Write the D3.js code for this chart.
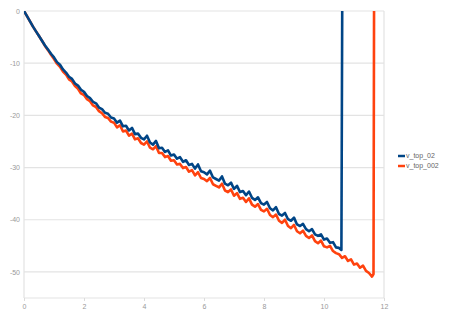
<!DOCTYPE html>
<html>
<head>
<meta charset="utf-8">
<script src="https://cdn.jsdelivr.net/npm/d3@7"></script>
<style>
  body { margin: 0; background: #fff; }
  svg { display: block; font-family: "Liberation Sans", Arial, sans-serif; }
</style>
</head>
<body>
<svg id="chart" width="450" height="328"></svg>
<script>
// series: [x, value]
var vTop02 = [
  [0.0, 0], [0.1, -1.0], [0.2, -2.0], [0.3, -3.0], [0.4, -3.9], [0.5, -4.8],
  [0.6, -5.7], [0.7, -6.6], [0.8, -7.4], [0.9, -8.2], [1.0, -8.9], [1.1, -9.8],
  [1.2, -10.3], [1.3, -11.2], [1.4, -11.8], [1.5, -12.6], [1.6, -13.0], [1.7, -13.9],
  [1.8, -14.3], [1.9, -15.1], [2.0, -15.5], [2.1, -16.3], [2.2, -16.7], [2.3, -17.4],
  [2.4, -17.7], [2.5, -18.5], [2.6, -18.8], [2.7, -19.5], [2.8, -19.7], [2.9, -20.4],
  [3.0, -20.6], [3.1, -21.4], [3.2, -21.0], [3.3, -22.1], [3.4, -22.0], [3.5, -22.9],
  [3.6, -22.4], [3.7, -23.6], [3.8, -23.5], [3.9, -24.3], [4.0, -24.6], [4.1, -23.9],
  [4.2, -25.2], [4.3, -25.6], [4.4, -24.9], [4.5, -26.3], [4.6, -26.2], [4.7, -27.0],
  [4.8, -26.7], [4.9, -27.7], [5.0, -27.5], [5.1, -28.3], [5.2, -28.0], [5.3, -28.9],
  [5.4, -28.6], [5.5, -29.5], [5.6, -29.3], [5.7, -30.2], [5.8, -29.4], [5.9, -30.7],
  [6.0, -30.9], [6.1, -31.3], [6.2, -30.6], [6.3, -31.9], [6.4, -32.2], [6.5, -32.5],
  [6.6, -31.7], [6.7, -33.1], [6.8, -33.4], [6.9, -32.9], [7.0, -34.1], [7.1, -33.5],
  [7.2, -34.7], [7.3, -34.5], [7.4, -35.3], [7.5, -34.6], [7.6, -35.8], [7.7, -36.2],
  [7.8, -35.7], [7.9, -36.8], [8.0, -37.1], [8.1, -36.6], [8.2, -37.8], [8.3, -38.2],
  [8.4, -37.6], [8.5, -38.9], [8.6, -39.2], [8.7, -38.7], [8.8, -39.9], [8.9, -40.2],
  [9.0, -39.6], [9.1, -40.9], [9.2, -41.2], [9.3, -40.8], [9.4, -41.8], [9.5, -42.2],
  [9.6, -41.8], [9.7, -42.8], [9.8, -43.1], [9.9, -42.8], [10.0, -43.8], [10.1, -43.6],
  [10.2, -44.4], [10.3, -44.3], [10.4, -45.3], [10.5, -45.4], [10.58, -45.8], [10.61, 5]
];

var vTop002 = [
  [0.0, 0], [0.1, -1.0], [0.2, -2.0], [0.3, -3.0], [0.4, -3.9], [0.5, -4.8],
  [0.6, -5.7], [0.7, -6.7], [0.8, -7.5], [0.9, -8.4], [1.0, -9.2], [1.1, -10.1],
  [1.2, -10.7], [1.3, -11.6], [1.4, -12.2], [1.5, -13.1], [1.6, -13.5], [1.7, -14.4],
  [1.8, -14.9], [1.9, -15.8], [2.0, -16.1], [2.1, -16.9], [2.2, -17.3], [2.3, -18.1],
  [2.4, -18.4], [2.5, -19.2], [2.6, -19.6], [2.7, -20.3], [2.8, -20.5], [2.9, -21.2],
  [3.0, -21.4], [3.1, -22.3], [3.2, -21.9], [3.3, -23.1], [3.4, -22.9], [3.5, -23.9],
  [3.6, -23.5], [3.7, -24.6], [3.8, -24.4], [3.9, -25.3], [4.0, -25.6], [4.1, -25.0],
  [4.2, -26.2], [4.3, -26.5], [4.4, -25.9], [4.5, -27.2], [4.6, -27.2], [4.7, -28.0],
  [4.8, -27.8], [4.9, -28.7], [5.0, -28.6], [5.1, -29.4], [5.2, -29.3], [5.3, -30.1],
  [5.4, -29.9], [5.5, -30.8], [5.6, -30.5], [5.7, -31.5], [5.8, -30.9], [5.9, -32.0],
  [6.0, -32.2], [6.1, -32.6], [6.2, -32.0], [6.3, -33.2], [6.4, -33.5], [6.5, -33.8],
  [6.6, -33.1], [6.7, -34.4], [6.8, -34.7], [6.9, -34.2], [7.0, -35.4], [7.1, -34.9],
  [7.2, -36.0], [7.3, -35.8], [7.4, -36.6], [7.5, -35.9], [7.6, -37.1], [7.7, -37.5],
  [7.8, -37.0], [7.9, -38.1], [8.0, -38.4], [8.1, -37.9], [8.2, -39.1], [8.3, -39.5],
  [8.4, -39.0], [8.5, -40.2], [8.6, -40.6], [8.7, -40.0], [8.8, -41.2], [8.9, -41.6],
  [9.0, -41.0], [9.1, -42.2], [9.2, -42.6], [9.3, -42.1], [9.4, -43.1], [9.5, -43.5],
  [9.6, -43.0], [9.7, -44.1], [9.8, -44.5], [9.9, -44.0], [10.0, -45.1], [10.1, -45.3],
  [10.2, -45.0], [10.3, -46.0], [10.4, -46.4], [10.5, -46.6], [10.6, -47.3], [10.7, -47.0],
  [10.8, -47.9], [10.9, -47.6], [11.0, -48.6], [11.1, -48.4], [11.2, -49.2], [11.3, -48.8],
  [11.4, -49.8], [11.5, -50.2], [11.6, -50.9], [11.65, -50.4], [11.67, 5]
];

var seriesNames = ['v_top_02', 'v_top_002'];
var seriesColors = ['#004586', '#ff420e'];
var xTicks = [0, 2, 4, 6, 8, 10, 12];
var yTicks = [0, -10, -20, -30, -40, -50];

(function() {
    var svg = d3.select('#chart');

    var plotLeft = 24, plotRight = 384, plotTop = 11, plotBottom = 298;

    var x = d3.scaleLinear().domain([0, 12]).range([plotLeft, plotRight]);
    var y = d3.scaleLinear().domain([-55, 0]).range([plotBottom, plotTop]);

    // gridlines
    svg.append('g')
        .selectAll('line')
        .data(yTicks.concat([-55]))
        .enter().append('line')
        .attr('x1', plotLeft)
        .attr('x2', plotRight)
        .attr('y1', function(d) { return y(d); })
        .attr('y2', function(d) { return y(d); })
        .attr('stroke', '#e3e3e3')
        .attr('stroke-width', 1.2);

    // left and right frame
    svg.append('line')
        .attr('x1', plotLeft).attr('x2', plotLeft)
        .attr('y1', plotTop).attr('y2', plotBottom)
        .attr('stroke', '#e3e3e3').attr('stroke-width', 1.2);
    svg.append('line')
        .attr('x1', plotRight).attr('x2', plotRight)
        .attr('y1', plotTop).attr('y2', plotBottom)
        .attr('stroke', '#e3e3e3').attr('stroke-width', 1.2);

    // x axis
    var xAxis = d3.axisBottom(x)
        .tickValues(xTicks)
        .tickSize(3)
        .tickSizeOuter(0)
        .tickPadding(3);

    var gx = svg.append('g')
        .attr('transform', 'translate(0,' + plotBottom + ')')
        .call(xAxis);
    gx.select('.domain').remove();
    gx.selectAll('line').attr('stroke', '#dcdcdc');
    gx.selectAll('text')
        .attr('fill', '#999')
        .style('font-size', '7px')
        .style('font-family', '"Liberation Sans", Arial, sans-serif');

    // y axis
    var yAxis = d3.axisLeft(y)
        .tickValues(yTicks)
        .tickSize(0)
        .tickPadding(4)
        .tickFormat(function(d) { return d === 0 ? '0' : '-' + Math.abs(d); });

    var gy = svg.append('g')
        .attr('transform', 'translate(' + plotLeft + ',0)')
        .call(yAxis);
    gy.select('.domain').remove();
    gy.selectAll('text')
        .attr('fill', '#999')
        .style('font-size', '7px')
        .style('font-family', '"Liberation Sans", Arial, sans-serif');

    // clip to plot area
    svg.append('clipPath')
        .attr('id', 'plot-clip')
        .append('rect')
        .attr('x', plotLeft)
        .attr('y', plotTop)
        .attr('width', plotRight - plotLeft)
        .attr('height', plotBottom - plotTop);

    var line = d3.line()
        .x(function(d) { return x(d[0]); })
        .y(function(d) { return y(d[1]); });

    var plot = svg.append('g').attr('clip-path', 'url(#plot-clip)');

    // draw orange first so blue sits on top
    [vTop002, vTop02].forEach(function(series, i) {
        var idx = 1 - i;
        plot.append('path')
            .datum(series)
            .attr('d', line)
            .attr('fill', 'none')
            .attr('stroke', seriesColors[idx])
            .attr('stroke-width', 2.6)
            .attr('stroke-linejoin', 'round');
    });

    // legend
    var legend = svg.append('g')
        .selectAll('g')
        .data(seriesNames)
        .enter().append('g')
        .attr('transform', function(d, i) { return 'translate(398,' + (156 + i * 10) + ')'; });

    legend.append('line')
        .attr('x1', 0).attr('x2', 7)
        .attr('y1', 0).attr('y2', 0)
        .attr('stroke', function(d, i) { return seriesColors[i]; })
        .attr('stroke-width', 2.5);

    legend.append('text')
        .attr('x', 8)
        .attr('y', 0)
        .attr('dy', '0.35em')
        .attr('fill', '#666')
        .style('font-size', '7px')
        .text(function(d) { return d; });
})();
</script>
</body>
</html>
